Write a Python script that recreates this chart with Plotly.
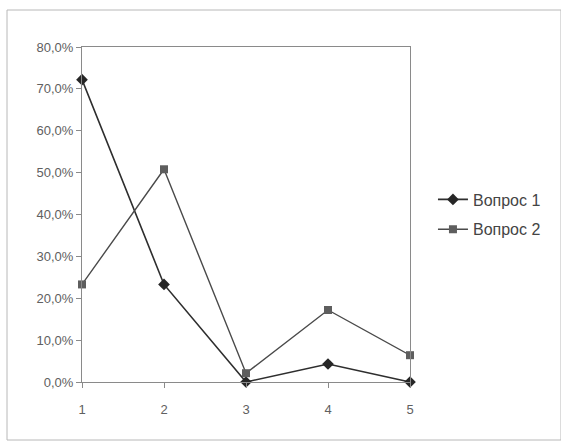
import plotly.graph_objects as go

categories = [1, 2, 3, 4, 5]
vopros1 = [0.722, 0.233, 0.0, 0.043, 0.0]
vopros2 = [0.233, 0.508, 0.021, 0.172, 0.064]
series_names = ["Вопрос 1", "Вопрос 2"]
y_ticks = [0, 0.1, 0.2, 0.3, 0.4, 0.5, 0.6, 0.7, 0.8]
y_tick_labels = ["0,0%", "10,0%", "20,0%", "30,0%", "40,0%", "50,0%", "60,0%", "70,0%", "80,0%"]

fig = go.Figure()
fig.add_trace(go.Scatter(
    x=categories, y=vopros1, name=series_names[0], mode="lines+markers",
    line=dict(color="#2e2e2e", width=1.6),
    marker=dict(symbol="diamond", size=9, color="#262626"),
    cliponaxis=False, legendgroup="a",
))
fig.add_trace(go.Scatter(
    x=categories, y=vopros2, name=series_names[1], mode="lines+markers",
    line=dict(color="#4a4a4a", width=1.4),
    marker=dict(symbol="square", size=8, color="#5e5e5e"),
    cliponaxis=False, legendgroup="b",
))

fig.update_layout(
    width=561, height=442,
    margin=dict(l=82, r=151, t=47, b=60),
    paper_bgcolor="white", plot_bgcolor="white",
    font=dict(family="Liberation Sans, Arial, sans-serif", size=12, color="#555555"),
    showlegend=True,
    legend=dict(
        x=1.07, y=0.5, xanchor="left", yanchor="middle",
        font=dict(size=16, color="#444444"),
        tracegroupgap=6, traceorder="grouped",
        bgcolor="rgba(0,0,0,0)",
    ),
    xaxis=dict(
        range=[1, 5], tickvals=categories, ticktext=[str(c) for c in categories],
        showgrid=False, zeroline=False, showline=True, linecolor="#8a8a8a", linewidth=1,
        ticks="outside", ticklen=5, tickcolor="#8a8a8a", ticklabelstandoff=10,
        tickfont=dict(size=13, color="#606060"), mirror=True,
    ),
    yaxis=dict(
        range=[0, 0.8], tickvals=y_ticks, ticktext=y_tick_labels,
        showgrid=False, zeroline=False, showline=True, linecolor="#8a8a8a", linewidth=1,
        ticks="outside", ticklen=5, tickcolor="#8a8a8a",
        tickfont=dict(size=13, color="#606060"), mirror=True,
    ),
    shapes=[dict(
        type="rect", xref="paper", yref="paper",
        x0=-75 / 328, x1=479 / 328, y0=-58 / 335, y1=(335 + 37) / 335,
        line=dict(color="#b8b8b8", width=1), fillcolor="rgba(0,0,0,0)", layer="below",
    )],
)

fig.write_html("out.html")
